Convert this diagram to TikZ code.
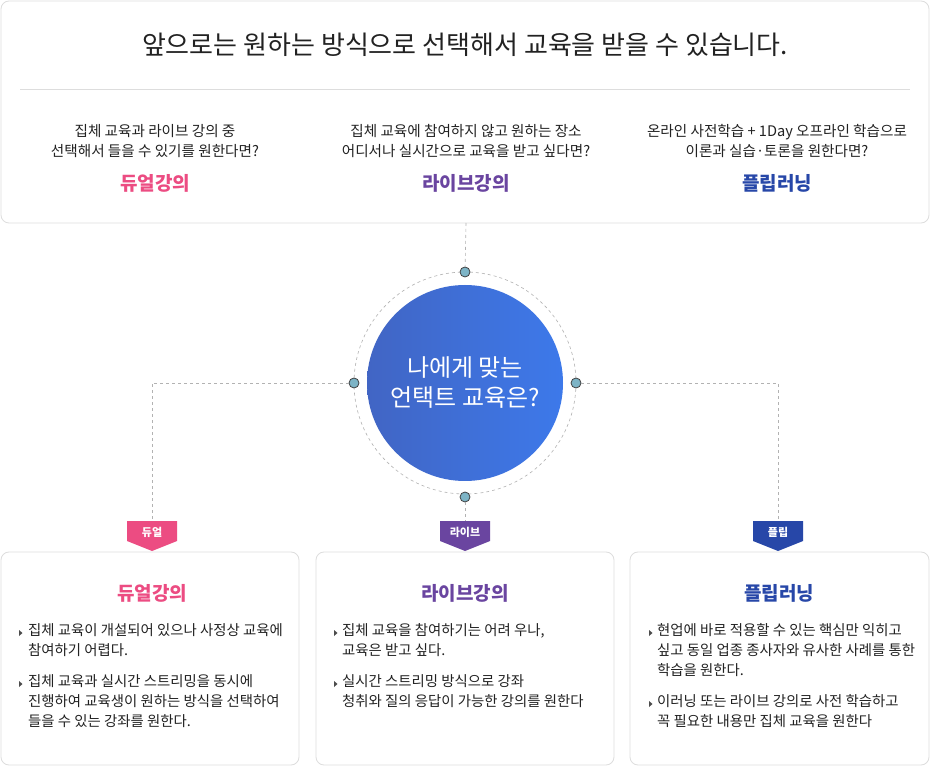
\documentclass[tikz,border=0pt]{standalone}
\usepackage{fontspec}
\setmainfont{Noto Sans CJK KR}
\usetikzlibrary{shadings}
\definecolor{pk}{HTML}{EC4C82}
\definecolor{pu}{HTML}{6A45A0}
\definecolor{bl}{HTML}{2747A8}
\definecolor{bd}{HTML}{DDDDDD}
\definecolor{dt}{HTML}{7DB4C6}
\definecolor{tx}{HTML}{222222}
\definecolor{gl}{HTML}{4165C4}
\definecolor{gr}{HTML}{3D79EA}
\begin{document}
\begin{tikzpicture}[x=1pt,y=-1pt,
  card/.style={draw=bd,line width=0.8pt,rounded corners=8pt},
  dl/.style={draw=black!30,dashed,line width=0.6pt},
  dotn/.style={circle,draw=black!75,fill=dt,line width=0.8pt,minimum size=10pt,inner sep=0pt},
  sm/.style={font=\fontsize{14.6}{20}\selectfont,text=tx,align=center},
  hd/.style={font=\bfseries\fontsize{19}{22}\selectfont},
  bul/.style={font=\fontsize{14.4}{20}\selectfont,text=tx,align=left,anchor=north west,inner sep=0pt},
  tag/.style={text=white,font=\bfseries\fontsize{11}{12}\selectfont,inner sep=0pt}]
\useasboundingbox (0,0) rectangle (930,767);
\fill[white] (0,0) rectangle (930,767);
\draw[card] (1,1) rectangle (929,223);
\node[font=\fontsize{26}{30}\selectfont,text=tx] (title) at (465,45) {앞으로는 원하는 방식으로 선택해서 교육을 받을 수 있습니다.};
\draw[bd,line width=0.8pt] (20,89) -- (910,89);
\node[sm] (s1) at (155,141) {집체 교육과 라이브 강의 중\\선택해서 들을 수 있기를 원한다면?};
\node[sm] (s2) at (466,141) {집체 교육에 참여하지 않고 원하는 장소\\어디서나 실시간으로 교육을 받고 싶다면?};
\node[sm] (s3) at (777,141) {온라인 사전학습 + 1Day 오프라인 학습으로\\이론과 실습·토론을 원한다면?};
\node[hd,text=pk] (h1) at (155,183) {듀얼강의};
\node[hd,text=pu] (h2) at (466,183) {라이브강의};
\node[hd,text=bl] (h3) at (777,183) {플립러닝};
% center
\coordinate (c) at (465,383);
\draw[dl] (c) circle[radius=111];
\shade[left color=gl, right color=gr] (c) circle[radius=98];
\node[font=\fontsize{24}{30}\selectfont,text=white,align=center] (ct) at (465,383) {나에게 맞는\\언택트 교육은?};
\coordinate (bt) at (466,223);
\coordinate (L) at (152,383); \coordinate (R) at (778,383);
\coordinate (t1) at (152,521); \coordinate (t2) at (465,521); \coordinate (t3) at (778,521);
\node[dotn] (dT) at (465,272) {};
\node[dotn] (dL) at (354,383) {};
\node[dotn] (dR) at (576,383) {};
\node[dotn] (dB) at (465,497) {};
\draw[dl] (bt) -- (dT);
\draw[dl] (dL) -- (L) -- (t1);
\draw[dl] (dR) -- (R) -- (t3);
\draw[dl] (dB) -- (t2);
% tags
\foreach \x/\c/\t/\n in {152/pk/듀얼/g1,465/pu/라이브/g2,778/bl/플립/g3}{
  \fill[\c] (\x-25,521) -- (\x+25,521) -- (\x+25,541) -- (\x,551) -- (\x-25,541) -- cycle;
  \node[tag] (\n) at (\x,532) {\t};
}
% cards
\draw[card] (1,552) rectangle (299,765);
\draw[card] (316,552) rectangle (614,765);
\draw[card] (630,552) rectangle (929,765);
\node[hd,text=pk] (b1) at (152,593) {듀얼강의};
\node[hd,text=pu] (b2) at (465,593) {라이브강의};
\node[hd,text=bl] (b3) at (779,593) {플립러닝};
\newcommand{\tri}[2]{\fill[black!70] (#1,#2-3) -- (#1+3.5,#2) -- (#1,#2+3) -- cycle;}
\tri{19}{633}\tri{19}{684}
\node[bul] (p1) at (28,623) {집체 교육이 개설되어 있으나 사정상 교육에\\참여하기 어렵다.};
\node[bul] (p2) at (28,674) {집체 교육과 실시간 스트리밍을 동시에\\진행하여 교육생이 원하는 방식을 선택하여\\들을 수 있는 강좌를 원한다.};
\tri{334}{633}\tri{334}{684}
\node[bul] (p3) at (342,623) {집체 교육을 참여하기는 어려 우나,\\교육은 받고 싶다.};
\node[bul] (p4) at (342,674) {실시간 스트리밍 방식으로 강좌\\청취와 질의 응답이 가능한 강의를 원한다};
\tri{649}{633}\tri{649}{704}
\node[bul] (p5) at (657,623) {현업에 바로 적용할 수 있는 핵심만 익히고\\싶고 동일 업종 종사자와 유사한 사례를 통한\\학습을 원한다.};
\node[bul] (p6) at (657,694) {이러닝 또는 라이브 강의로 사전 학습하고\\꼭 필요한 내용만 집체 교육을 원한다};
\end{tikzpicture}
\end{document}
